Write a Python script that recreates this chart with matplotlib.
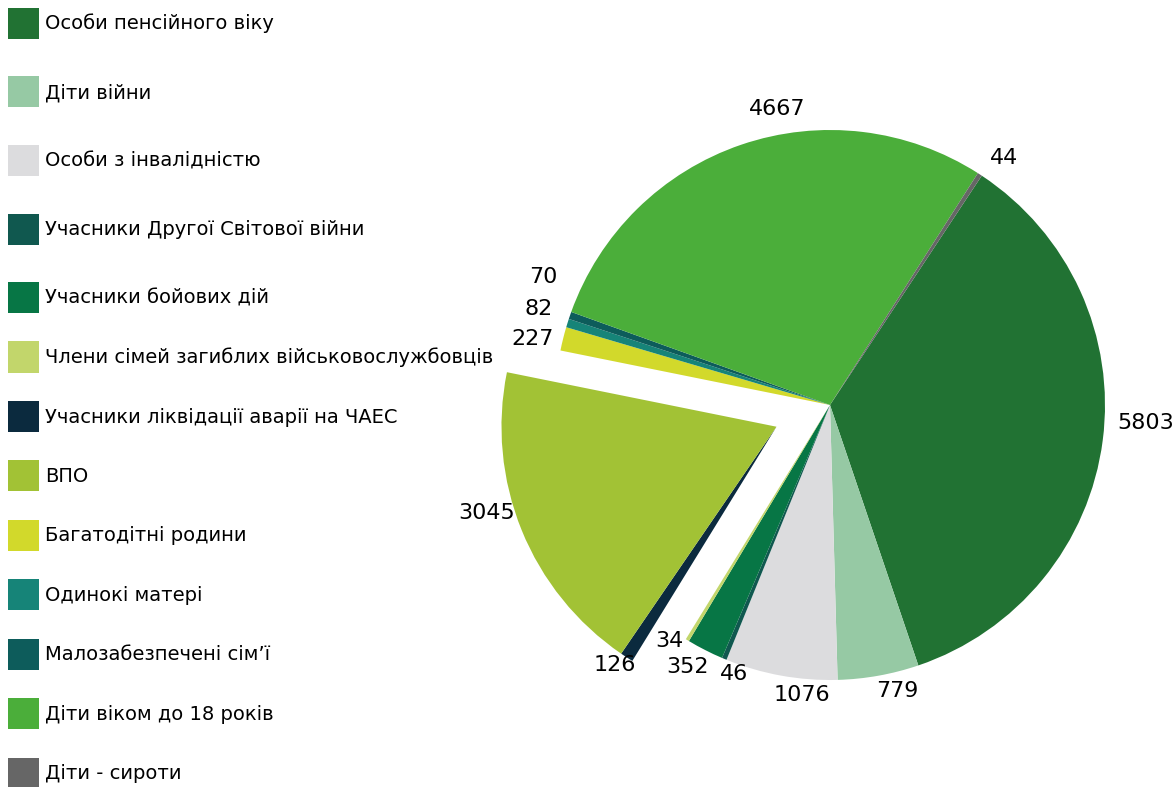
import matplotlib.pyplot as plt

categories = [
    'Особи пенсійного віку',
    'Діти війни',
    'Особи з інвалідністю',
    'Учасники Другої Світової війни',
    'Учасники бойових дій',
    'Члени сімей загиблих військовослужбовців',
    'Учасники ліквідації аварії на ЧАЕС',
    'ВПО',
    'Багатодітні родини',
    'Одинокі матері',
    'Малозабезпечені сім\u2019ї',
    'Діти віком до 18 років',
    'Діти - сироти',
]
values = [5803, 779, 1076, 46, 352, 34, 126, 3045, 227, 82, 70, 4667, 44]
colors = ['#217233', '#96c9a4', '#dcdcde', '#10584f', '#077645', '#c2d66b',
          '#0b2a3e', '#a2c235', '#d2d92b', '#168478', '#0d5c5b', '#4bae3a',
          '#666666']

# label nudges (in radius units), the way Excel placed them
nudge = {0: (-0.018, 0.073), 2: (0.19, 0.0), 3: (0.113, 0.01),
         4: (0.044, 0.0), 5: (0.022, 0.058), 6: (0.073, 0.03),
         7: (0.04, 0.09), 8: (0.033, -0.018), 9: (0.015, 0.032),
         10: (0.022, 0.116), 11: (0.255, 0.062), 1: (-0.022, 0.015)}

fig = plt.figure(figsize=(11.76, 7.87), dpi=100)
k = 1.45
S = 2 * 275 * k
ax = fig.add_axes([(830 - S / 2) / 1176, (787 - 405 - S / 2) / 787,
                   S / 1176, S / 787])

explode = [0] * len(values)
explode[7] = 0.21

wedges, texts = ax.pie(values, colors=colors, startangle=56.5,
                       counterclock=False, explode=explode,
                       labels=[str(v) for v in values], labeldistance=1.07,
                       wedgeprops=dict(linewidth=0),
                       textprops=dict(fontsize=16, color='black'))
# the ЧАЕС slice sits next to the exploded ВПО slice
wedges[6].set_center(wedges[7].center)
cx, cy = wedges[7].center
x, y = texts[6].get_position()
texts[6].set_position((x + cx, y + cy))
for i, (dx, dy) in nudge.items():
    x, y = texts[i].get_position()
    texts[i].set_position((x + dx, y + dy))

ax.set_xlim(-k, k)
ax.set_ylim(-k, k)
ax.axis('off')

# legend rows are spaced wider at the top than at the bottom
leg_kw = dict(loc='upper left', frameon=False, fontsize=14, handlelength=1.6,
              handleheight=2.08, handletextpad=0.3, borderpad=0.2,
              borderaxespad=0.2)
leg1 = fig.legend(wedges[:5], categories[:5], bbox_to_anchor=(0.0, 1.0),
                  labelspacing=1.93, **leg_kw)
leg2 = fig.legend(wedges[5:], categories[5:], bbox_to_anchor=(0.0, 0.576),
                  labelspacing=1.46, **leg_kw)

plt.savefig('out.png', dpi=100)
